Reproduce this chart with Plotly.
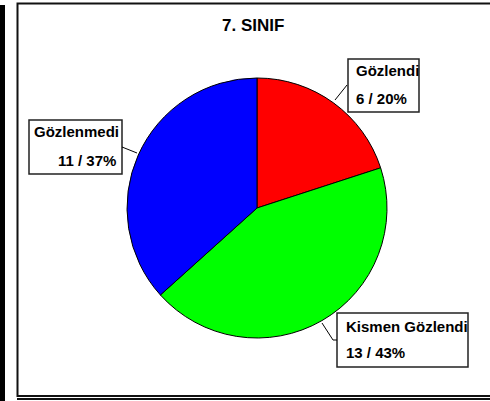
import plotly.graph_objects as go

# Observation results for grade 7
categories = ["Gözlendi", "Kismen Gözlendi", "Gözlenmedi"]
counts = [6, 13, 11]
percents = [20, 43, 37]
colors = ["#FF0000", "#00FF00", "#0000FF"]
title = "7. SINIF"

W, H = 490, 401
FONT = "Liberation Sans, Arial, sans-serif"


def px(x):
    return x / W


def py(y):
    return 1 - y / H


# pie centre and radius in pixels
cx, cy, R = 257, 208, 130

fig = go.Figure(go.Pie(
    labels=categories,
    values=counts,
    sort=False,
    direction="clockwise",
    rotation=0,
    marker=dict(colors=colors, line=dict(color="#000000", width=1)),
    textinfo="none",
    hoverinfo="label+value+percent",
    showlegend=False,
    domain=dict(x=[px(cx - R), px(cx + R)], y=[py(cy + R), py(cy - R)]),
))

shapes = []
annotations = []

# outer frame and side bar
shapes.append(dict(type="rect", xref="paper", yref="paper",
                   x0=px(0), x1=px(5), y0=py(401), y1=py(5),
                   fillcolor="#000000", line=dict(width=0)))
shapes.append(dict(type="rect", xref="paper", yref="paper",
                   x0=px(17.5), x1=px(495), y0=py(396), y1=py(3.5),
                   line=dict(color="#111111", width=2)))
shapes.append(dict(type="line", xref="paper", yref="paper",
                   x0=px(17), x1=px(495), y0=py(399), y1=py(399),
                   line=dict(color="#111111", width=2)))

annotations.append(dict(text="<b>" + title + "</b>", xref="paper", yref="paper",
                        x=px(253), y=py(26), xanchor="center", yanchor="middle",
                        showarrow=False, font=dict(family=FONT, size=17, color="#000")))

# label boxes: (left, top, right, bottom), text x, alignment, line centres
boxes = [
    dict(box=(348, 59, 419, 112), tx=354, anchor="left", y1=71, y2=98,
         leader=[(335, 100), (347, 85)]),
    dict(box=(337, 313, 468, 367), tx=344, anchor="left", y1=326, y2=352,
         leader=[(322, 323), (333, 340), (337, 340)]),
    dict(box=(29, 120, 122, 174), tx=118, anchor="right", y1=131, y2=160,
         leader=[(122, 147), (137, 153)]),
]

for i, b in enumerate(boxes):
    l, t, r, bt = b["box"]
    shapes.append(dict(type="rect", xref="paper", yref="paper",
                       x0=px(l), x1=px(r), y0=py(bt), y1=py(t),
                       fillcolor="#FFFFFF", line=dict(color="#222222", width=1.5)))
    pts = b["leader"]
    path = "M " + " L ".join(f"{px(x)},{py(y)}" for x, y in pts)
    shapes.append(dict(type="path", xref="paper", yref="paper", path=path,
                       line=dict(color="#000000", width=1)))
    tx = b["tx"] if b["anchor"] == "left" else b["tx"]
    annotations.append(dict(text="<b>" + categories[i] + "</b>",
                            xref="paper", yref="paper",
                            x=px(b["tx"] if b["anchor"] == "left" else 32),
                            y=py(b["y1"]), xanchor="left", yanchor="middle",
                            showarrow=False,
                            font=dict(family=FONT, size=15, color="#000")))
    annotations.append(dict(text=f"<b>{counts[i]} / {percents[i]}%</b>",
                            xref="paper", yref="paper",
                            x=px(b["tx"]), y=py(b["y2"]),
                            xanchor=b["anchor"], yanchor="middle",
                            showarrow=False,
                            font=dict(family=FONT, size=15, color="#000")))

fig.update_layout(
    width=W, height=H,
    margin=dict(l=0, r=0, t=0, b=0),
    paper_bgcolor="#FFFFFF",
    plot_bgcolor="#FFFFFF",
    shapes=shapes,
    annotations=annotations,
)

fig.write_html("out.html")
